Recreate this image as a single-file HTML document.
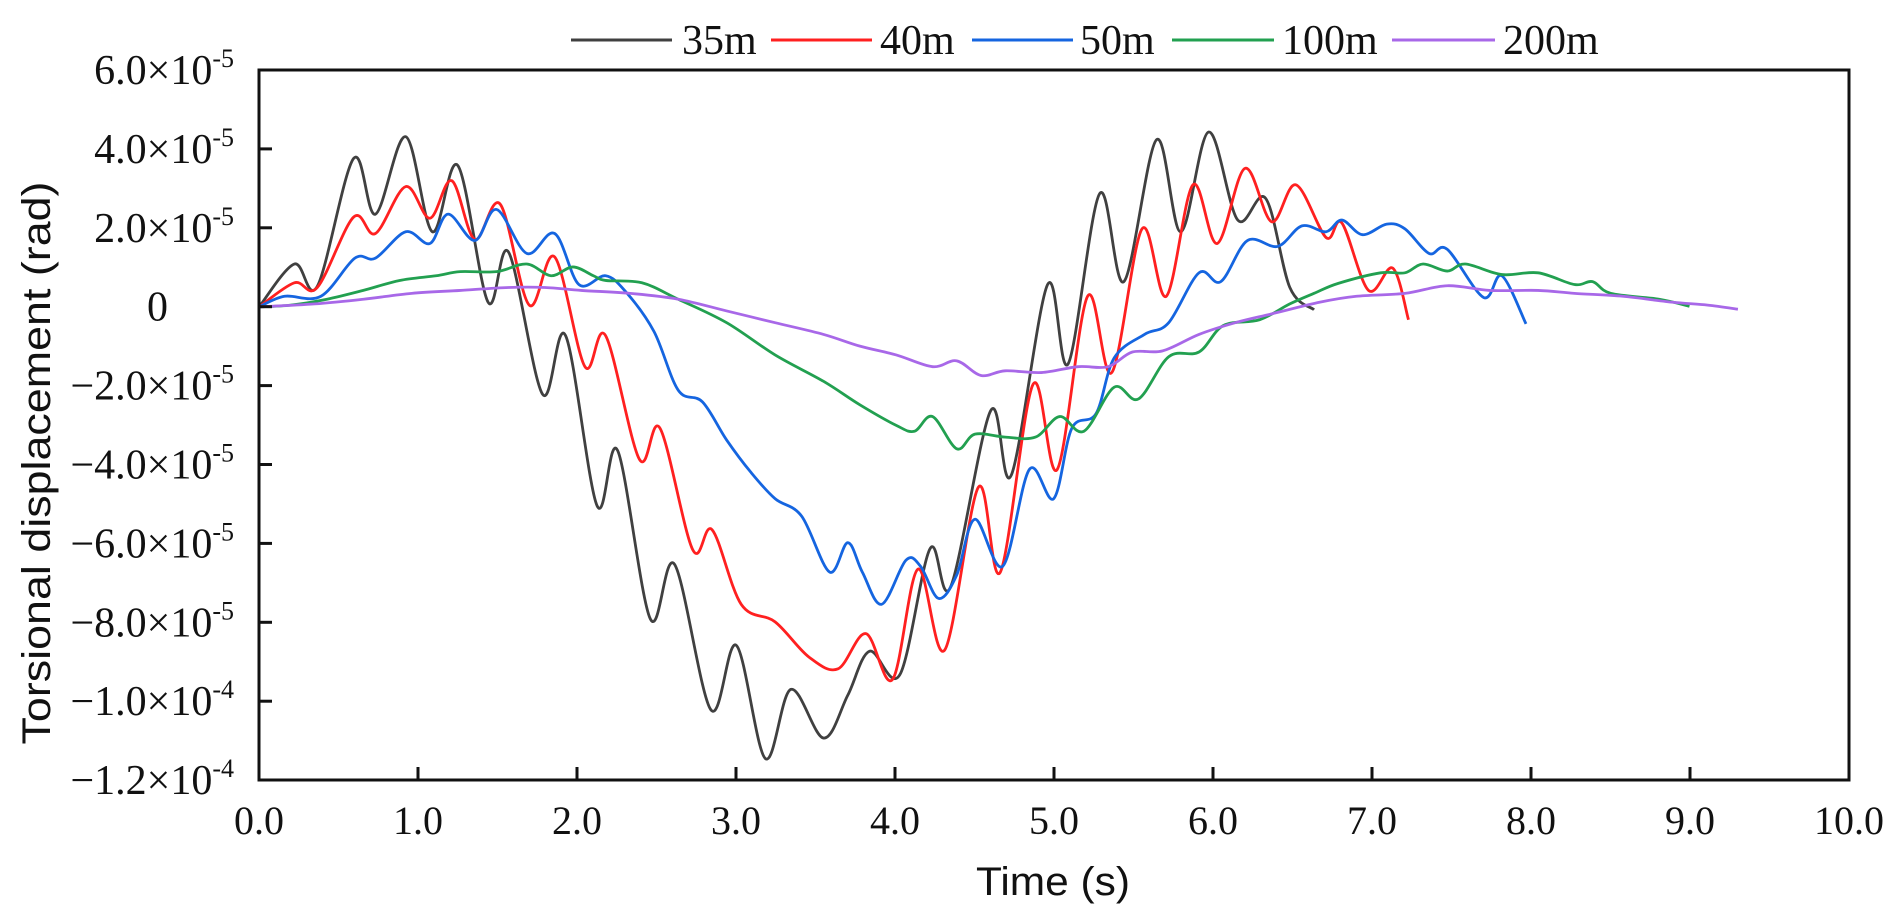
<!DOCTYPE html>
<html><head><meta charset="utf-8"><style>
html,body{margin:0;padding:0;background:#fff;}
svg{display:block;}
text{font-family:"Liberation Serif",serif;fill:#111;}
</style></head><body>
<svg id="s" width="1899" height="920" viewBox="0 0 1899 920" xmlns="http://www.w3.org/2000/svg">
<rect width="1899" height="920" fill="#fff"/>
<g stroke-width="3">
<line x1="571" y1="40" x2="672" y2="40" stroke="#404040"/>
<line x1="771" y1="40" x2="872" y2="40" stroke="#ff2020"/>
<line x1="972" y1="40" x2="1073" y2="40" stroke="#1565e0"/>
<line x1="1172" y1="40" x2="1274" y2="40" stroke="#22a050"/>
<line x1="1392" y1="40" x2="1495" y2="40" stroke="#a868e8"/>
</g>
<g font-size="42">
<text x="682" y="54">35m</text>
<text x="880" y="54">40m</text>
<text x="1080" y="54">50m</text>
<text x="1282" y="54">100m</text>
<text x="1503" y="54">200m</text>
</g>
<g id="series" transform="scale(1.2111,0.5867)" fill="none"></g>
<rect x="259" y="70" width="1590" height="710" fill="none" stroke="#111" stroke-width="3"/>
<g id="ticks" stroke="#111" stroke-width="3"></g>
<g id="xl" font-size="40" text-anchor="middle"></g>
<g id="yl" font-size="42" text-anchor="end"></g>
<text x="1053" y="895" font-size="40" text-anchor="middle" style="font-family:'Liberation Sans',sans-serif" textLength="154" lengthAdjust="spacingAndGlyphs">Time (s)</text>
<text transform="translate(50,463) rotate(-90)" font-size="40" text-anchor="middle" style="font-family:'Liberation Sans',sans-serif" textLength="563" lengthAdjust="spacingAndGlyphs">Torsional displacement (rad)</text>
</svg>
<script>
var NS="http://www.w3.org/2000/svg";
var data={
"#404040":[[214,523],[243,450],[262,488],[292,270],[310,365],[335,233],[357,395],[378,282],[403,515],[420,430],[448,672],[467,572],[493,862],[510,768],[537,1055],[557,962],[587,1210],[608,1100],[632,1293],[653,1175],[680,1258],[700,1185],[718,1110],[743,1150],[768,935],[785,1000],[818,700],[835,810],[865,485],[882,620],[908,330],[928,480],[955,238],[975,395],[998,225],[1022,375],[1045,338],[1065,490],[1085,528]],
"#ff2020":[[214,523],[243,482],[262,490],[292,370],[310,398],[335,318],[355,372],[373,308],[392,408],[413,348],[437,520],[458,438],[483,625],[500,572],[528,783],[545,730],[572,937],[588,903],[612,1030],[640,1060],[668,1120],[692,1140],[715,1080],[737,1158],[758,970],[780,1108],[808,830],[826,975],[853,655],[873,800],[898,505],[918,635],[943,390],[963,505],[985,315],[1005,415],[1028,287],[1050,378],[1070,315],[1095,405],[1108,380],[1130,495],[1150,457],[1163,545]],
"#1565e0":[[214,523],[235,505],[265,505],[293,440],[310,440],[335,395],[355,415],[370,365],[392,410],[410,357],[435,432],[458,398],[478,485],[500,470],[517,498],[540,565],[560,665],[580,685],[600,750],[620,805],[640,850],[662,880],[685,975],[700,925],[712,975],[728,1030],[748,955],[760,965],[775,1020],[790,980],[805,885],[828,965],[850,800],[870,850],[885,730],[905,705],[920,610],[945,570],[965,550],[990,465],[1008,480],[1030,410],[1055,420],[1075,385],[1095,395],[1108,375],[1125,400],[1145,382],[1160,390],[1180,432],[1195,425],[1225,507],[1240,470],[1260,552]],
"#22a050":[[214,523],[240,520],[270,510],[300,495],[330,478],[360,470],[380,463],[410,463],[435,450],[455,470],[473,455],[490,470],[500,478],[530,482],[560,510],[600,550],[640,605],[680,650],[710,690],[740,725],[755,735],[770,710],[790,765],[805,740],[830,745],[855,745],[875,710],[895,735],[920,660],[940,680],[965,608],[990,600],[1010,555],[1040,545],[1065,518],[1085,500],[1105,483],[1140,465],[1160,465],[1175,450],[1195,462],[1210,450],[1240,468],[1270,465],[1300,485],[1315,480],[1330,500],[1370,510],[1395,522]],
"#a868e8":[[214,523],[260,518],[300,510],[340,500],[380,495],[420,490],[450,490],[480,495],[520,500],[560,510],[600,530],[640,550],[680,570],[710,590],[740,605],[770,625],[790,615],[810,640],[830,632],[860,635],[890,625],[915,625],[935,600],[960,598],[990,570],[1020,550],[1050,535],[1090,515],[1120,505],[1160,500],[1195,487],[1230,495],[1270,495],[1300,500],[1340,505],[1380,515],[1410,520],[1435,527]]
};
var g=document.getElementById("series");
for(var c in data){
 var p=data[c];var d="M"+p[0][0]+","+p[0][1];
 for(var i=0;i<p.length-1;i++){
  var p0=p[Math.max(0,i-1)],p1=p[i],p2=p[i+1],p3=p[Math.min(p.length-1,i+2)];
  var c1=[p1[0]+(p2[0]-p0[0])/6,p1[1]+(p2[1]-p0[1])/6];
  var c2=[p2[0]-(p3[0]-p1[0])/6,p2[1]-(p3[1]-p1[1])/6];
  d+="C"+c1[0].toFixed(1)+","+c1[1].toFixed(1)+" "+c2[0].toFixed(1)+","+c2[1].toFixed(1)+" "+p2[0]+","+p2[1];
 }
 var e=document.createElementNS(NS,"path");
 e.setAttribute("d",d);e.setAttribute("stroke",c);e.setAttribute("stroke-width","2.8");
 e.setAttribute("vector-effect","non-scaling-stroke");e.setAttribute("stroke-linejoin","round");
 g.appendChild(e);
}
var t=document.getElementById("ticks"),xl=document.getElementById("xl"),yl=document.getElementById("yl");
for(var i=0;i<=10;i++){
 var x=259+159*i;
 if(i>0&&i<10){var l=document.createElementNS(NS,"line");l.setAttribute("x1",x);l.setAttribute("x2",x);l.setAttribute("y1",780);l.setAttribute("y2",767);t.appendChild(l);}
 var tx=document.createElementNS(NS,"text");tx.setAttribute("x",x);tx.setAttribute("y",834);tx.textContent=i.toFixed(1);xl.appendChild(tx);
}
var labs=[["6.0","-5"],["4.0","-5"],["2.0","-5"],null,["\u22122.0","-5"],["\u22124.0","-5"],["\u22126.0","-5"],["\u22128.0","-5"],["\u22121.0","-4"],["\u22121.2","-4"]];
for(var i=0;i<10;i++){
 var y=70+i*78.9;
 if(i>0&&i<9){var l=document.createElementNS(NS,"line");l.setAttribute("x1",259);l.setAttribute("x2",272);l.setAttribute("y1",y);l.setAttribute("y2",y);t.appendChild(l);}
 var tx=document.createElementNS(NS,"text");
 if(labs[i]===null){tx.setAttribute("x",168);tx.setAttribute("y",y+14);tx.textContent="0";}
 else{
  tx.setAttribute("x",234);tx.setAttribute("y",y+14);
  var a=document.createElementNS(NS,"tspan");a.textContent=labs[i][0]+"\u00d710";tx.appendChild(a);
  var b=document.createElementNS(NS,"tspan");b.setAttribute("font-size","26");b.setAttribute("dy","-17");b.textContent=labs[i][1];tx.appendChild(b);
 }
 yl.appendChild(tx);
}
</script>
</body></html>
